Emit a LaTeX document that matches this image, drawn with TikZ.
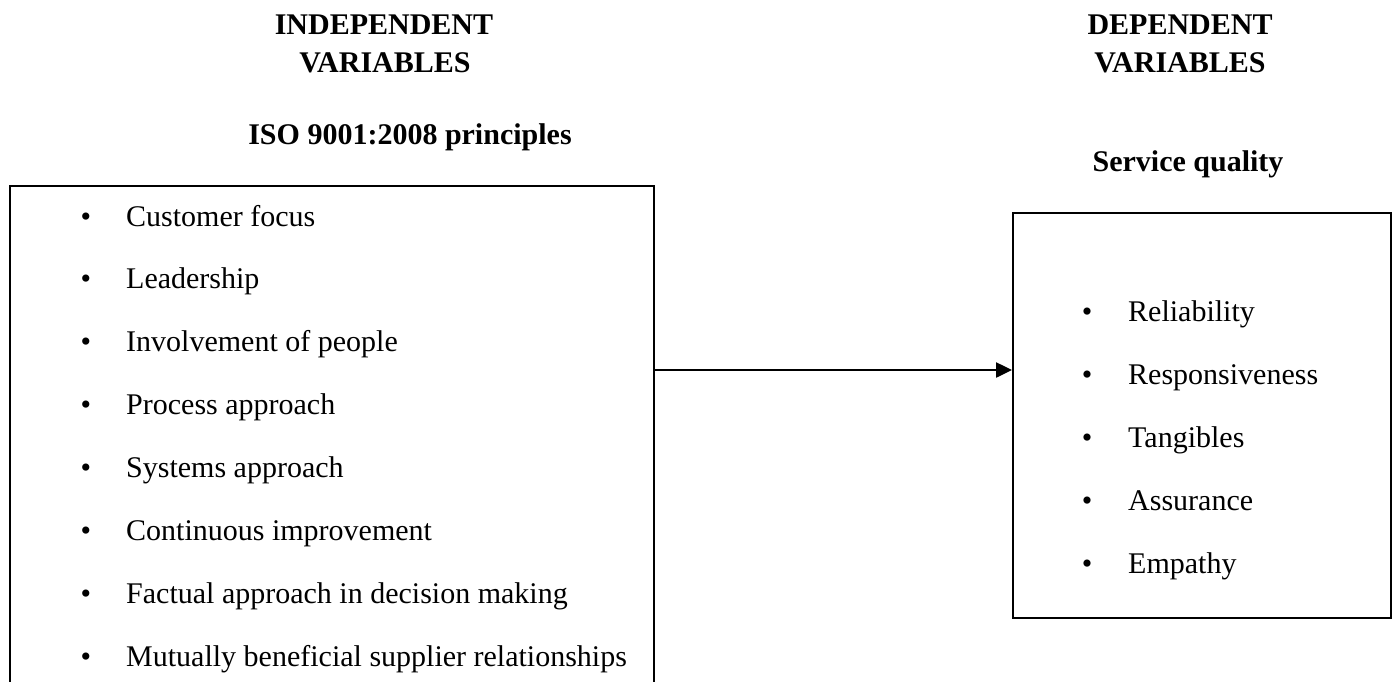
\documentclass[tikz,border=0pt]{standalone}
\usepackage{fontspec}
\setmainfont{Liberation Serif}
\usetikzlibrary{arrows.meta}
\tikzset{
  head/.style={font=\fontsize{30}{34}\selectfont\bfseries, anchor=base, inner sep=0pt},
  item/.style={font=\fontsize{30}{34}\selectfont, anchor=base west, inner sep=0pt},
  bul/.style={font=\fontsize{30}{34}\selectfont, anchor=base, inner sep=0pt},
  frame/.style={draw=black, line width=2pt},
  conn/.style={line width=2.5pt, -{Triangle[length=16pt,width=15pt]}}
}
\begin{document}
\begin{tikzpicture}[x=1pt,y=-1pt]
\useasboundingbox (0,0) rectangle (1395,681);
% headings
\node[head] (ind1) at (384,34) {INDEPENDENT};
\node[head] (ind2) at (385,72) {VARIABLES};
\node[head] (iso) at (410,144) {ISO 9001:2008 principles};
\node[head] (dep1) at (1180,34) {DEPENDENT};
\node[head] (dep2) at (1180,72) {VARIABLES};
\node[head] (sq) at (1188,171) {Service quality};
% left box (bottom cut by page edge)
\coordinate (lbtl) at (10,186);
\coordinate (lbtr) at (654,186);
\draw[frame] (10,700) -- (lbtl) -- (lbtr) -- (654,700);
\coordinate (lbE) at (654,370);
% right box
\node[frame, minimum width=378pt, minimum height=405pt, inner sep=0pt, anchor=north west] (rb) at (1012,212) {};
% connector
\draw[conn] (lbE) -- (rb.west |- lbE);
% left items
\foreach \t [count=\i from 0] in {Customer focus, Leadership, Involvement of people, Process approach, Systems approach, Continuous improvement, Factual approach in decision making, Mutually beneficial supplier relationships}{
  \node[bul] (lb\i) at (86,{226+62.9*\i}) {\textbullet};
  \node[item] (lt\i) at (126,{226+62.9*\i}) {\t};
}
% right items
\foreach \t [count=\i from 0] in {Reliability, Responsiveness, Tangibles, Assurance, Empathy}{
  \node[bul] (rbu\i) at (1087,{321+63.2*\i}) {\textbullet};
  \node[item] (rt\i) at (1128,{321+63.2*\i}) {\t};
}
\end{tikzpicture}
\end{document}
